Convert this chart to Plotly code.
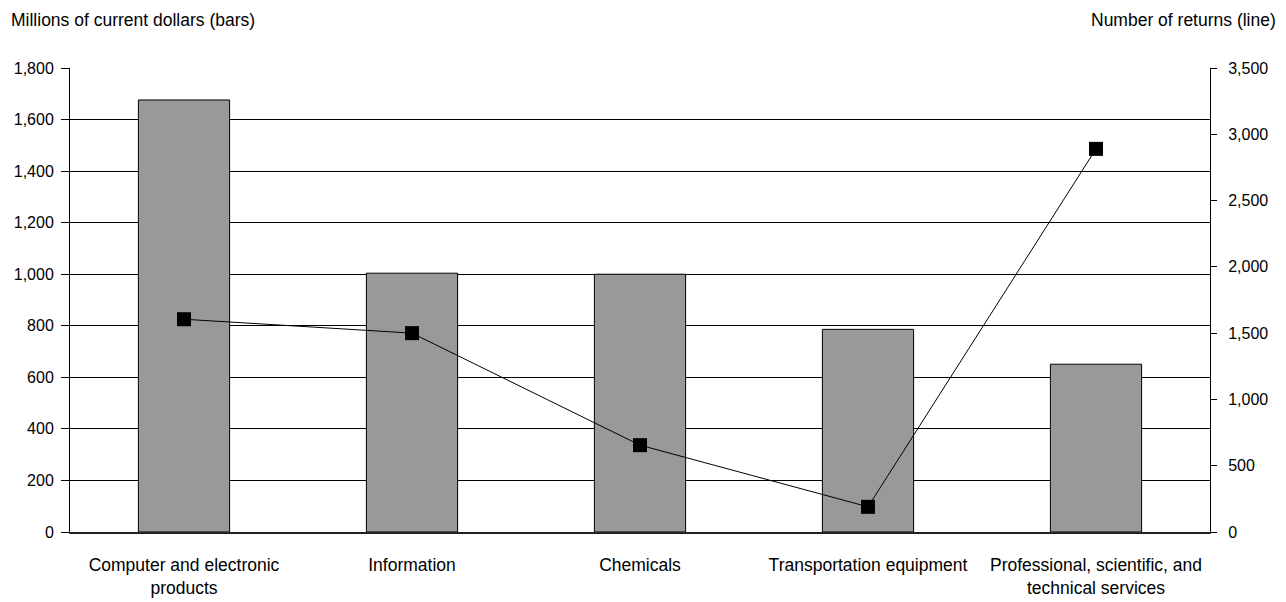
import plotly.graph_objects as go

categories = ["Computer and electronic<br>products", "Information", "Chemicals",
              "Transportation equipment", "Professional, scientific, and<br>technical services"]
dollars_millions = [1676, 1004, 1000, 786, 651]
num_returns = [1605, 1500, 655, 190, 2890]

left_ticks = list(range(0, 1801, 200))
right_ticks = list(range(0, 3501, 500))

FONT = "Liberation Sans Narrow, Arial Narrow, Liberation Sans, Arial, sans-serif"

fig = go.Figure()
fig.add_trace(go.Bar(
    x=categories, y=dollars_millions, name="Millions of current dollars",
    marker=dict(color="#999999", line=dict(color="black", width=1)),
    width=0.4, yaxis="y",
))
fig.add_trace(go.Scatter(
    x=categories, y=num_returns, name="Number of returns",
    mode="lines+markers", yaxis="y2",
    line=dict(color="black", width=1),
    marker=dict(symbol="square", size=14, color="black"),
))

fig.update_layout(
    width=1278, height=594,
    margin=dict(l=62, r=76, t=60, b=70, autoexpand=False),
    paper_bgcolor="white", plot_bgcolor="white",
    showlegend=False,
    font=dict(family=FONT, size=16, color="black"),
    xaxis=dict(
        showline=True, linecolor="#222222", linewidth=1.5,
        ticks="", showgrid=False, tickfont=dict(size=17.5),
        ticklabelstandoff=16, automargin=False,
    ),
    yaxis=dict(
        range=[0, 1800], tickvals=left_ticks, tickformat=",",
        showline=True, linecolor="black", linewidth=1,
        ticks="outside", ticklen=8, tickcolor="black",
        showgrid=True, gridcolor="black", gridwidth=1,
        zeroline=False, tickfont=dict(size=16),
        ticklabelstandoff=4, automargin=False,
    ),
    yaxis2=dict(
        range=[0, 3500], tickvals=right_ticks, tickformat=",",
        overlaying="y", side="right",
        showline=True, linecolor="black", linewidth=1,
        ticks="outside", ticklen=6, tickcolor="black",
        showgrid=False, zeroline=False, tickfont=dict(size=16),
        ticklabelstandoff=8, automargin=False,
    ),
    annotations=[
        dict(text="Millions of current dollars (bars)", xref="paper", yref="paper",
             x=-61 / 1140, y=1.0, xanchor="left", yanchor="middle", yshift=48,
             showarrow=False, font=dict(size=17.5)),
        dict(text="Number of returns (line)", xref="paper", yref="paper",
             x=1 + 68 / 1140, y=1.0, xanchor="right", yanchor="middle", yshift=48,
             showarrow=False, font=dict(size=17.5)),
    ],
)

fig.write_html("out.html")
